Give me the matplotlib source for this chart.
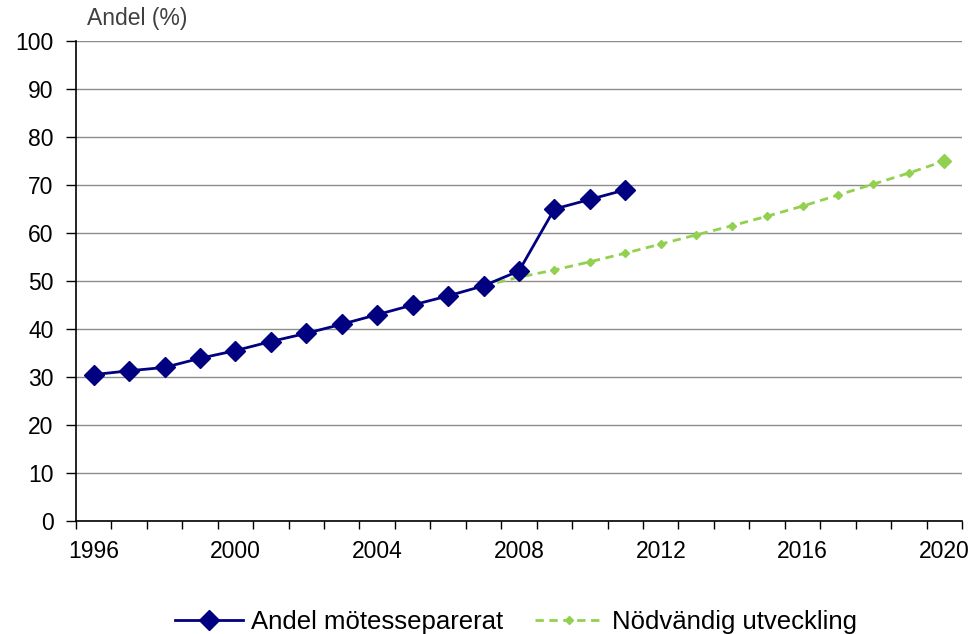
import matplotlib.pyplot as plt

plt.rcParams['font.family'] = ['Liberation Sans', 'DejaVu Sans']

# data
years_obs = list(range(1996, 2012))
andel = [30.5, 31.3, 32.0, 33.9, 35.5, 37.4, 39.1, 41.0, 43.0, 45.0, 46.9, 49.0, 52.1, 65.0, 67.0, 69.0]

years_need = list(range(2007, 2021))
behov = [49.0, 50.8, 52.3, 54.0, 55.8, 57.7, 59.6, 61.5, 63.5, 65.6, 67.9, 70.2, 72.5, 75.0]

label_years = [1996, 2000, 2004, 2008, 2012, 2016, 2020]
yticks = list(range(0, 101, 10))

blue = '#000080'
green = '#92D050'

fig = plt.figure(figsize=(9.75, 6.34), dpi=100)
ax = fig.add_axes([0.0779, 0.1782, 0.9088, 0.7571])

ax.plot(years_need, behov, color=green, lw=2, ls=(0, (3, 2)), marker='D', ms=4,
        label='Nödvändig utveckling', zorder=3)
ax.plot(years_need[-1], behov[-1], color=green, marker='D', ms=7, zorder=3)
ax.plot(years_obs, andel, color=blue, lw=2, marker='D', ms=10,
        label='Andel mötesseparerat', zorder=4)

ax.set_xlim(years_obs[0] - 0.5, years_need[-1] + 0.5)
ax.set_ylim(0, 100)
ax.set_yticks(yticks)
ax.yaxis.grid(True, color='#8c8c8c', lw=1)
ax.set_axisbelow(True)

ax.set_xticks(label_years)
ax.set_xticklabels([str(y) for y in label_years])
ax.set_xticks([y - 0.5 for y in range(1996, 2022)], minor=True)
ax.tick_params(axis='x', which='major', length=0, pad=14, labelsize=16.5)
ax.tick_params(axis='x', which='minor', length=6, width=1, color='black')
ax.tick_params(axis='y', length=7, width=1, labelsize=16.5, pad=9)

for s in ['top', 'right']:
    ax.spines[s].set_visible(False)
for s in ['left', 'bottom']:
    ax.spines[s].set_linewidth(1.2)

fig.text(0.089, 0.971, 'Andel (%)', fontsize=16.5, color='#404040', va='center')

h, l = ax.get_legend_handles_labels()
fig.legend(h[::-1], l[::-1], loc='center', bbox_to_anchor=(0.529, 0.019), ncol=2,
           frameon=False, fontsize=18.5, handlelength=2.65, columnspacing=1.25,
           handletextpad=0.32)

fig.savefig('out.png', dpi=100)
